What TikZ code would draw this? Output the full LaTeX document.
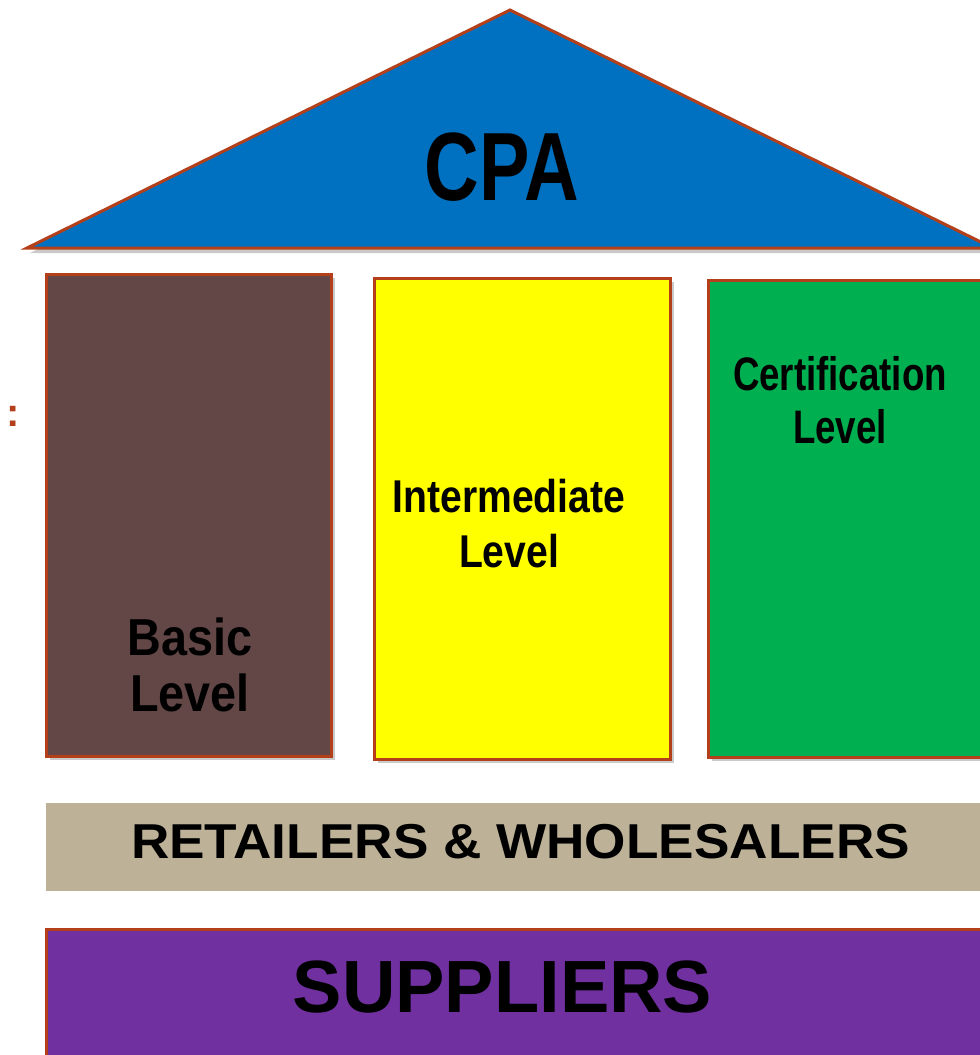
\documentclass[tikz,border=0pt]{standalone}
\usepackage{fontspec}
\setmainfont{Liberation Sans}
\newfontfamily\cpafont[FakeStretch=0.78]{Liberation Sans}
\newfontfamily\certfont[FakeStretch=0.78]{Liberation Sans}
\newfontfamily\interfont[FakeStretch=0.85]{Liberation Sans}
\newfontfamily\basicfont[FakeStretch=0.9]{Liberation Sans}
\newfontfamily\tradefont[FakeStretch=1.085]{Liberation Sans}
\usetikzlibrary{shadows}
\definecolor{roofblue}{HTML}{0070C0}
\definecolor{basicbrown}{HTML}{634747}
\definecolor{interyellow}{HTML}{FFFF00}
\definecolor{certgreen}{HTML}{00B050}
\definecolor{tradetan}{HTML}{BDB298}
\definecolor{supplypurple}{HTML}{7030A0}
\definecolor{rimred}{HTML}{B3401A}
\tikzset{
  x=1pt,y=-1pt,
  every node/.style={outer sep=0pt,inner sep=0pt}
}
\tikzset{pillar/.style={
    draw=rimred,
    line width=3pt,
    minimum width=#1,
    drop shadow={shadow xshift=4pt,shadow yshift=-4pt,opacity=.35,fill=black!60}
  },
  pillar/.default=290pt}
\tikzset{caption/.style={
    anchor=base,
    align=center,
    font=#1
  },
  caption/.default=\bfseries}

\begin{document}
\begin{tikzpicture}
  \useasboundingbox (0,0) rectangle (980,1055);
  \clip (0,0) rectangle (980,1055);

  % roof
  \draw [fill=roofblue,draw=rimred,line width=3pt,line join=miter,
    drop shadow={shadow xshift=3pt,shadow yshift=-5pt,opacity=.35,fill=black!60}]
  (27,248) -- (510,10) -- (993,248) -- cycle;
  \node (CPA) [caption=\cpafont\bfseries\fontsize{97}{110}\selectfont] at (502,200) {CPA};

  % pillars
  \node (Basic_level) [pillar=285pt,fill=basicbrown,minimum height=482pt] at (188.5,515) {};
  \node (Intermediate_level) [pillar=296pt,fill=interyellow,minimum height=481pt] at (522,518.5) {};
  \node (Certification_level) [pillar=292pt,fill=certgreen,minimum height=477pt] at (854,518.5) {};

  % last line sits on the given point
  \node (Basic_text) [caption=\basicfont\bfseries\fontsize{52}{56}\selectfont] at (190,711)
  {Basic\\Level};
  \node (Intermediate_text) [caption=\interfont\bfseries\fontsize{46}{55}\selectfont] at (509,567)
  {Intermediate\\Level};
  \node (Certification_text) [caption=\certfont\bfseries\fontsize{47}{53}\selectfont] at (840,443)
  {Certification\\Level};

  \node (Colon) [caption=\bfseries\fontsize{40}{40}\selectfont,text=rimred] at (13,426) {:};

  % foundations
  \node (Trade) [fill=tradetan,minimum width=954pt,minimum height=88pt] at (523,847) {};
  \node (Trade_text) [caption=\tradefont\bfseries\fontsize{49}{55}\selectfont] at (520.5,858)
  {RETAILERS \& WHOLESALERS};

  \node (Suppliers) [pillar=954pt,fill=supplypurple,minimum height=171pt] at (523,1014.5) {};
  \node (Suppliers_text) [caption=\bfseries\fontsize{74}{80}\selectfont] at (502.5,1012)
  {SUPPLIERS};
\end{tikzpicture}
\end{document}
